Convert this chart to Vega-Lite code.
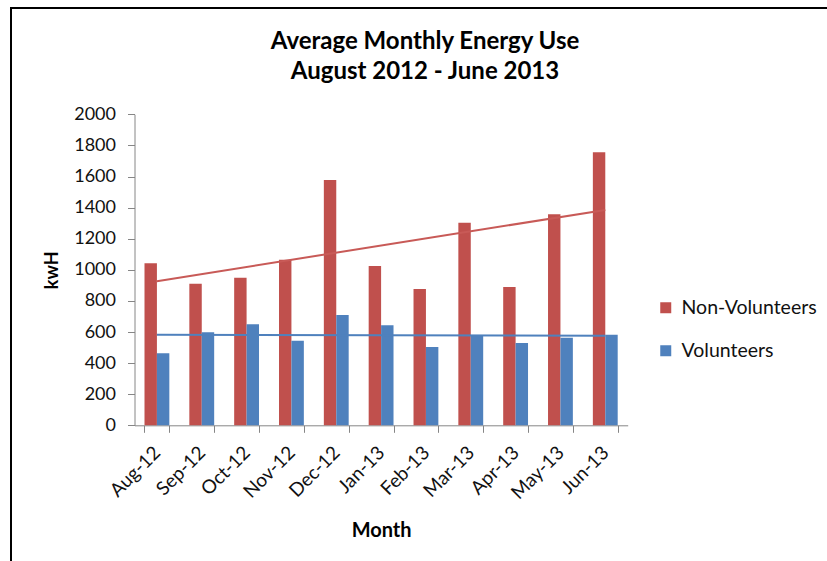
{
  "$schema": "https://vega.github.io/schema/vega-lite/v6.json",
  "width": 816,
  "height": 553,
  "autosize": {"type": "none"},
  "padding": {"left": 11, "top": 8, "right": 0, "bottom": 0},
  "background": "white",
  "config": {
    "view": {"stroke": "black", "strokeWidth": 2, "strokeDash": [816, 1369, 600]},
    "font": "Lato"
  },
  "title": {
    "text": ["Average Monthly Energy Use", "August 2012 - June 2013"],
    "anchor": "middle",
    "frame": "group",
    "orient": "top",
    "offset": -76,
    "baseline": "top",
    "fontSize": 24,
    "fontWeight": "bold",
    "font": "Lato",
    "lineHeight": 30,
    "dx": 6,
    "color": "#000000"
  },
  "datasets": {
    "bars": [
      {"month": "Aug-12", "series": "Non-Volunteers", "kwh": 1042},
      {"month": "Aug-12", "series": "Volunteers", "kwh": 463},
      {"month": "Sep-12", "series": "Non-Volunteers", "kwh": 911},
      {"month": "Sep-12", "series": "Volunteers", "kwh": 598},
      {"month": "Oct-12", "series": "Non-Volunteers", "kwh": 949},
      {"month": "Oct-12", "series": "Volunteers", "kwh": 650},
      {"month": "Nov-12", "series": "Non-Volunteers", "kwh": 1065},
      {"month": "Nov-12", "series": "Volunteers", "kwh": 544},
      {"month": "Dec-12", "series": "Non-Volunteers", "kwh": 1577},
      {"month": "Dec-12", "series": "Volunteers", "kwh": 709},
      {"month": "Jan-13", "series": "Non-Volunteers", "kwh": 1024},
      {"month": "Jan-13", "series": "Volunteers", "kwh": 643},
      {"month": "Feb-13", "series": "Non-Volunteers", "kwh": 877},
      {"month": "Feb-13", "series": "Volunteers", "kwh": 504},
      {"month": "Mar-13", "series": "Non-Volunteers", "kwh": 1303},
      {"month": "Mar-13", "series": "Volunteers", "kwh": 581},
      {"month": "Apr-13", "series": "Non-Volunteers", "kwh": 889},
      {"month": "Apr-13", "series": "Volunteers", "kwh": 529},
      {"month": "May-13", "series": "Non-Volunteers", "kwh": 1357},
      {"month": "May-13", "series": "Volunteers", "kwh": 563},
      {"month": "Jun-13", "series": "Non-Volunteers", "kwh": 1756},
      {"month": "Jun-13", "series": "Volunteers", "kwh": 583}
    ],
    "trend": [
      {"month": "Aug-12", "series": "Non-Volunteers", "kwh": 927},
      {"month": "Jun-13", "series": "Non-Volunteers", "kwh": 1385},
      {"month": "Aug-12", "series": "Volunteers", "kwh": 582},
      {"month": "Jun-13", "series": "Volunteers", "kwh": 576}
    ]
  },
  "layer": [
    {
      "data": {"name": "bars"},
      "mark": {"type": "bar"},
      "encoding": {
        "x": {
          "field": "month",
          "type": "ordinal",
          "sort": ["Aug-12", "Sep-12", "Oct-12", "Nov-12", "Dec-12", "Jan-13", "Feb-13", "Mar-13", "Apr-13", "May-13", "Jun-13"],
          "scale": {"range": [123.5, 616.7], "paddingInner": 0.446, "paddingOuter": 0.223},
          "axis": {
            "orient": "bottom",
            "offset": -135.7,
            "title": "Month",
            "labelAngle": -45,
            "labelAlign": "right",
            "labelBaseline": "middle",
            "tickBand": "extent",
            "tickSize": 7,
            "domainColor": "#868686",
            "tickColor": "#868686",
            "labelFontSize": 19,
            "labelFont": "Lato",
            "labelColor": "#111111",
            "labelPadding": 17,
            "titleFont": "Lato",
            "titleFontSize": 20,
            "titleFontWeight": "bold",
            "titleColor": "#000000",
            "titlePadding": 18,
            "grid": false
          }
        },
        "xOffset": {
          "field": "series",
          "type": "nominal",
          "sort": ["Non-Volunteers", "Volunteers"],
          "scale": {"paddingInner": 0, "paddingOuter": 0}
        },
        "y": {
          "field": "kwh",
          "type": "quantitative",
          "scale": {"domain": [0, 2000], "range": [417.3, 106.3], "nice": false},
          "axis": {
            "offset": -123.5,
            "values": [0, 200, 400, 600, 800, 1000, 1200, 1400, 1600, 1800, 2000],
            "format": "d",
            "tickSize": 7,
            "labelPadding": 12,
            "labelFontSize": 18,
            "labelFont": "Lato",
            "labelColor": "#111111",
            "title": "kwH",
            "titleFont": "Lato",
            "titleFontSize": 18,
            "titleFontWeight": "bold",
            "titleColor": "#000000",
            "titlePadding": 12,
            "grid": false,
            "domainColor": "#868686",
            "tickColor": "#868686"
          }
        },
        "color": {
          "field": "series",
          "type": "nominal",
          "scale": {"domain": ["Non-Volunteers", "Volunteers"], "range": ["#C0504D", "#4F81BD"]},
          "legend": {
            "orient": "none",
            "legendX": 645,
            "legendY": 290,
            "title": null,
            "symbolType": "square",
            "symbolSize": 121,
            "symbolStrokeWidth": 0,
            "labelFontSize": 19.5,
            "labelFont": "Lato",
            "labelColor": "#111111",
            "labelOffset": 6,
            "rowPadding": 22,
            "padding": 0
          }
        }
      }
    },
    {
      "data": {"name": "trend"},
      "mark": {"type": "line", "strokeWidth": 2},
      "encoding": {
        "x": {
          "field": "month",
          "type": "ordinal",
          "sort": ["Aug-12", "Sep-12", "Oct-12", "Nov-12", "Dec-12", "Jan-13", "Feb-13", "Mar-13", "Apr-13", "May-13", "Jun-13"]
        },
        "y": {"field": "kwh", "type": "quantitative"},
        "stroke": {
          "field": "series",
          "type": "nominal",
          "scale": {"domain": ["Non-Volunteers", "Volunteers"], "range": ["#C85A57", "#4F81BD"]},
          "legend": null
        }
      }
    }
  ]
}
